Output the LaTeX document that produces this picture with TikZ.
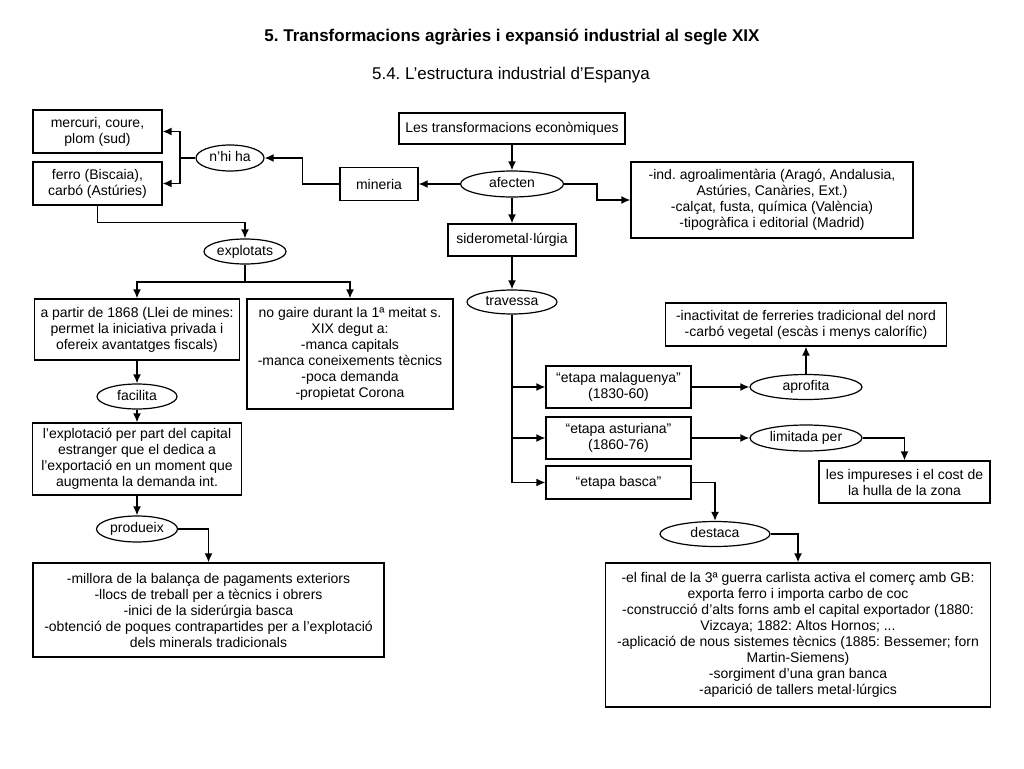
\documentclass[tikz,border=0pt]{standalone}
\usepackage{fontspec}
\setmainfont{Liberation Sans}
\usetikzlibrary{arrows.meta}
\usetikzlibrary{positioning,shapes.geometric}
\tikzset{
    concept/.style={
           rectangle,
           draw=black, line width=1.2pt,
           inner sep=2pt,
           align=center,
           font=\fontsize{14}{16}\selectfont,
           text=black
           },
    link/.style={
           ellipse,
           draw=black, line width=1.2pt,
           inner sep=0pt,
           text height=10pt, text depth=3pt,
           font=\fontsize{14}{16}\selectfont,
           text=black
           },
    connector/.style={
           line width=1.6pt
           },
}

\begin{document}
\frenchspacing
\begin{tikzpicture}[x=1pt,y=-1pt,>={Latex[length=9pt,width=8pt]}]
\useasboundingbox (0,0) rectangle (1024,768);

% Titles
\node[font=\bfseries\fontsize{17}{20}\selectfont] (TITLE) at (512,37) {5. Transformacions agràries i expansió industrial al segle XIX};
\node[font=\fontsize{17}{20}\selectfont] (SUBTITLE) at (511,75) {5.4. L’estructura industrial d’Espanya};

% Central column
\node[concept, minimum width=226pt, minimum height=31pt] (TRANSF) at (512,128.5) {Les transformacions econòmiques};
\node[link, below of=TRANSF, node distance=55.5pt, minimum width=103pt, minimum height=26pt] (AFECTEN) {afecten};
\node[concept, below of=AFECTEN, node distance=56pt, minimum width=128pt, minimum height=32pt] (SIDERO) {siderometal·lúrgia};
\node[link, below of=SIDERO, node distance=62pt, minimum width=90pt, minimum height=24pt] (TRAVESSA) {travessa};

% Mineria branch
\node[concept, minimum width=78pt, minimum height=33pt] (MINERIA) at (379,184) {mineria};
\node[link, minimum width=68pt, minimum height=26pt] (NHIHA) at (230,158) {n’hi ha};
\node[concept, minimum width=129pt, minimum height=43pt] (MERCURI) at (97.5,131.5) {mercuri, coure,\\plom (sud)};
\node[concept, minimum width=129pt, minimum height=43pt] (FERRO) at (97.5,183.5) {ferro (Biscaia),\\carbó (Astúries)};
\node[link, minimum width=82pt, minimum height=25pt] (EXPLOTATS) at (245,251.5) {explotats};
\node[concept, minimum width=205pt, minimum height=61pt] (APARTIR) at (137,329.5) {a partir de 1868 (Llei de mines:\\permet la iniciativa privada i\\ofereix avantatges fiscals)};
\node[concept, minimum width=206pt, minimum height=110pt] (NOGAIRE) at (350,354) {no gaire durant la 1ª meitat s.\\XIX degut a:\\-manca capitals\\-manca coneixements tècnics\\-poca demanda\\-propietat Corona};
\node[link, below of=APARTIR, node distance=67pt, minimum width=80pt, minimum height=25pt] (FACILITA) {facilita};
\node[concept, below of=FACILITA, node distance=62.5pt, minimum width=209pt, minimum height=72pt] (EXPLOTACIO) {l’explotació per part del capital\\estranger que el dedica a\\l’exportació en un moment que\\augmenta la demanda int.};
\node[link, below of=EXPLOTACIO, node distance=70pt, minimum width=81pt, minimum height=26pt] (PRODUEIX) {produeix};
\node[concept, minimum width=351pt, minimum height=94pt] (MILLORA) at (208.5,610) {-millora de la balança de pagaments exteriors\\-llocs de treball per a tècnics i obrers\\-inici de la siderúrgia basca\\-obtenció de poques contrapartides per a l’explotació\\dels minerals tradicionals};

% Other industries
\node[concept, minimum width=282pt, minimum height=76pt] (AGRO) at (772,200) {-ind. agroalimentària (Aragó, Andalusia,\\Astúries, Canàries, Ext.)\\-calçat, fusta, química (València)\\-tipogràfica i editorial (Madrid)};

% Stages
\node[concept, minimum width=145pt, minimum height=42pt] (MALAG) at (618.5,387) {“etapa malaguenya”\\(1830-60)};
\node[concept, below of=MALAG, node distance=51pt, minimum width=145pt, minimum height=42pt] (ASTUR) {“etapa asturiana”\\(1860-76)};
\node[concept, below of=ASTUR, node distance=44.5pt, minimum width=145pt, minimum height=33pt] (BASCA) {“etapa basca”};
\node[link, minimum width=112pt, minimum height=25pt] (APROFITA) at (806,387) {aprofita};
\node[link, minimum width=112pt, minimum height=26pt] (LIMITADA) at (806,438) {limitada per};
\node[concept, minimum width=281pt, minimum height=43pt] (INACTIV) at (806,324.5) {-inactivitat de ferreries tradicional del nord\\-carbó vegetal (escàs i menys calorífic)};
\node[concept, minimum width=171pt, minimum height=42pt] (IMPUR) at (904.5,482) {les impureses i el cost de\\la hulla de la zona};
\node[link, minimum width=110pt, minimum height=25pt] (DESTACA) at (715,534) {destaca};
\node[concept, minimum width=385pt, minimum height=144pt] (FINAL) at (798,635) {-el final de la 3ª guerra carlista activa el comerç amb GB:\\exporta ferro i importa carbo de coc\\-construcció d’alts forns amb el capital exportador (1880:\\Vizcaya; 1882: Altos Hornos; ...\\-aplicació de nous sistemes tècnics (1885: Bessemer; forn\\Martin-Siemens)\\-sorgiment d’una gran banca\\-aparició de tallers metal·lúrgics};

\begin{scope}[connector]
\draw[->] (TRANSF) -- (AFECTEN);
\draw[->] (AFECTEN.west) -- (MINERIA.east);
\draw[->] (AFECTEN.east) -- ++(33,0) |- (AGRO.west);
\draw[->] (AFECTEN) -- (SIDERO);
\draw[->] (SIDERO) -- (TRAVESSA);
% mineria
\draw[->] (MINERIA.west) -- ++(-37,0) |- (NHIHA.east);
\coordinate (NHJ) at (180,158);
\draw[->] (NHIHA.west) -- (NHJ) |- (MERCURI.east);
\draw[->] (NHJ) |- (FERRO.east);
\draw[->] (FERRO.south) -- ++(0,17) -| (EXPLOTATS.north);
\coordinate (EXJ) at (245,282);
\draw[->] (EXPLOTATS.south) -- (EXJ) -| (APARTIR.north);
\draw[->] (EXJ) -| (NOGAIRE.north);
\draw[->] (APARTIR) -- (FACILITA);
\draw[->] (FACILITA) -- (EXPLOTACIO);
\draw[->] (EXPLOTACIO) -- (PRODUEIX);
\draw[->] (PRODUEIX.east) -| (MILLORA.north);
% siderometal.lurgia
\draw[->] (TRAVESSA.south) |- (BASCA.west);
\draw[->] (TRAVESSA.south |- MALAG.west) -- (MALAG.west);
\draw[->] (TRAVESSA.south |- ASTUR.west) -- (ASTUR.west);
\draw[->] (MALAG.east) -- (APROFITA.west);
\draw[->] (APROFITA) -- (INACTIV);
\draw[->] (ASTUR.east) -- (LIMITADA.west);
\draw[->] (LIMITADA.east) -| (IMPUR.north);
\draw[->] (BASCA.east) -| (DESTACA.north);
\draw[->] (DESTACA.east) -| (FINAL.north);
\end{scope}

\end{tikzpicture}
\end{document}
